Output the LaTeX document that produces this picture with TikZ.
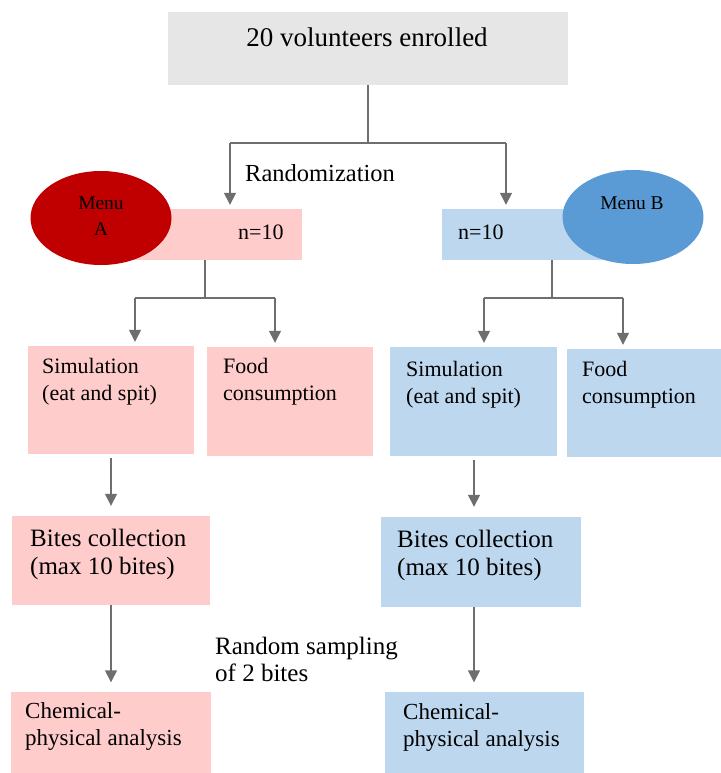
\documentclass[tikz,border=0pt]{standalone}
\usepackage{fontspec}
\setmainfont{Liberation Serif}
\usetikzlibrary{shapes.geometric,arrows.meta}
\definecolor{pinkbox}{HTML}{FFCCCC}
\definecolor{bluebox}{HTML}{BDD7EE}
\definecolor{graybox}{HTML}{E6E6E6}
\definecolor{menured}{HTML}{C00000}
\definecolor{menublue}{HTML}{5B9BD5}
\definecolor{linegray}{HTML}{6E6E6E}
\tikzset{
  box/.style={rectangle, inner sep=0pt, draw=none},
  txt/.style={anchor=west, align=left, inner sep=0pt, font=\fontsize{22}{27}\selectfont},
  bigtxt/.style={txt, font=\fontsize{25}{28}\selectfont},
  line/.style={draw=linegray, line width=1.4pt},
  arrow/.style={line, -{Triangle[length=12pt,width=12pt]}},
}
\begin{document}
\begin{tikzpicture}[x=1pt,y=-1pt]
  \useasboundingbox (0,0) rectangle (720,773);
  % Caixa de topo
  \node[box, fill=graybox, minimum width=400pt, minimum height=73pt] (top) at (368,48.5) {};
  \node[inner sep=0pt, font=\fontsize{27}{31}\selectfont] (toptxt) at (367,37) {20 volunteers enrolled};
  % Grupos
  \node[box, fill=pinkbox, minimum width=194pt, minimum height=51pt] (nA) at (205,234.5) {};
  \node[box, fill=bluebox, minimum width=220pt, minimum height=51pt] (nB) at (552,234.5) {};
  \node[ellipse, fill=menured, inner sep=0pt, minimum width=141pt, minimum height=94pt] (menuA) at (101,218) {};
  \node[ellipse, fill=menublue, inner sep=0pt, minimum width=141pt, minimum height=94pt] (menuB) at (633,217) {};
  \node[align=center, inner sep=0pt, font=\fontsize{19.5}{26}\selectfont] (menuAtxt) at (101,216) {Menu\\A};
  \node[inner sep=0pt, font=\fontsize{19.5}{23}\selectfont] (menuBtxt) at (632,203) {Menu B};
  \node[txt] (nAtxt) at (238,232) {n=10};
  \node[txt] (nBtxt) at (458,232) {n=10};
  \node[txt, font=\fontsize{24.5}{28}\selectfont] (randtxt) at (245,173) {Randomization};
  % Caixas do meio
  \node[box, fill=pinkbox, minimum width=166pt, minimum height=108pt] (simA) at (111,400) {};
  \node[box, fill=pinkbox, minimum width=166pt, minimum height=109pt] (foodA) at (290,401.5) {};
  \node[box, fill=bluebox, minimum width=167pt, minimum height=109pt] (simB) at (473,401.5) {};
  \node[box, fill=bluebox, minimum width=166pt, minimum height=108pt] (foodB) at (650,403) {};
  \node[txt] (simAtxt) at (42,381.5) {Simulation\\(eat and spit)};
  \node[txt] (foodAtxt) at (223,381.5) {Food\\consumption};
  \node[txt] (simBtxt) at (406,384.5) {Simulation\\(eat and spit)};
  \node[txt] (foodBtxt) at (582,384.5) {Food\\consumption};
  % Coleta
  \node[box, fill=pinkbox, minimum width=198pt, minimum height=89pt] (bitesA) at (111,560.5) {};
  \node[box, fill=bluebox, minimum width=200pt, minimum height=90pt] (bitesB) at (481,562) {};
  \node[bigtxt] (bitesAtxt) at (30,554) {Bites collection\\(max 10 bites)};
  \node[bigtxt] (bitesBtxt) at (397,555.5) {Bites collection\\(max 10 bites)};
  \node[bigtxt, font=\fontsize{25}{27}\selectfont] (samptxt) at (215,659.5) {Random sampling\\of 2 bites};
  % Analise
  \node[box, fill=pinkbox, minimum width=200pt, minimum height=93pt] (chemA) at (111,738) {};
  \node[box, fill=bluebox, minimum width=199pt, minimum height=93pt] (chemB) at (484.5,738) {};
  \node[txt, font=\fontsize{23}{27}\selectfont] (chemAtxt) at (25,726.5) {Chemical-\\physical analysis};
  \node[txt, font=\fontsize{23}{27}\selectfont] (chemBtxt) at (403,727.5) {Chemical-\\physical analysis};
  % Ligacoes
  \coordinate (split) at (368,143);
  \coordinate (rA) at (230,143);
  \coordinate (rB) at (506,143);
  \draw[line] (top.south) -- (split);
  \draw[line] (rA) -- (rB);
  \draw[arrow, shorten >=4pt] (rA) -- (rA |- nA.north);
  \draw[arrow, shorten >=4pt] (rB) -- (rB |- nB.north);
  \coordinate (forkA) at (205,298);
  \coordinate (forkB) at (552,298);
  \coordinate (aSimA) at (135,298);
  \coordinate (aFoodA) at (275,298);
  \coordinate (aSimB) at (484,298);
  \coordinate (aFoodB) at (623,298);
  \draw[line] (nA.south) -- (forkA);
  \draw[line] (nB.south) -- (forkB);
  \draw[line] (aSimA) -- (aFoodA);
  \draw[line] (aSimB) -- (aFoodB);
  \draw[arrow, shorten >=4pt] (aSimA) -- (aSimA |- simA.north);
  \draw[arrow, shorten >=4pt] (aFoodA) -- (aFoodA |- foodA.north);
  \draw[arrow, shorten >=4pt] (aSimB) -- (aSimB |- simB.north);
  \draw[arrow, shorten >=4pt] (aFoodB) -- (aFoodB |- foodB.north);
  \coordinate (colA) at (111,0);
  \coordinate (colB) at (474,0);
  \draw[arrow, shorten <=4pt, shorten >=10pt] (simA.south -| colA) -- (bitesA.north -| colA);
  \draw[arrow, shorten <=4pt, shorten >=10pt] (simB.south -| colB) -- (bitesB.north -| colB);
  \draw[arrow, shorten >=9pt] (bitesA.south -| colA) -- (chemA.north -| colA);
  \draw[arrow, shorten >=9pt] (bitesB.south -| colB) -- (chemB.north -| colB);
\end{tikzpicture}
\end{document}
